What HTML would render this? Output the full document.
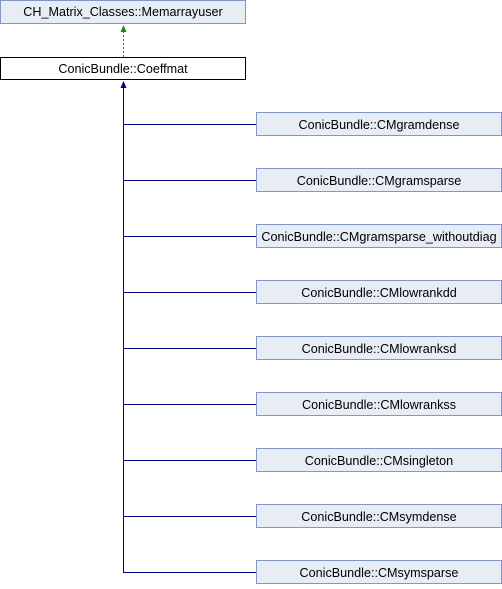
<!DOCTYPE html>
<html><head><style>
body{margin:0;width:502px;height:584px;background:#fff;overflow:hidden}
</style></head><body>
<svg width="502" height="584" xmlns="http://www.w3.org/2000/svg" font-family="Liberation Sans, sans-serif" font-size="12.6">
<rect x="0.5" y="0.5" width="245" height="23" fill="#e8ecf4" stroke="#8296c8"/>
<text x="123" y="16" text-anchor="middle">CH_Matrix_Classes::Memarrayuser</text>
<rect x="0.5" y="57.5" width="245" height="22" fill="#fff" stroke="#000"/>
<text x="123" y="73" text-anchor="middle">ConicBundle::Coeffmat</text>
<line x1="123.5" y1="57" x2="123.5" y2="31" stroke="#1a8a1a" stroke-dasharray="2,2"/>
<polygon points="123.5,25 120.5,32 126.5,32" fill="#1a8a1a"/>
<line x1="123.5" y1="87" x2="123.5" y2="572" stroke="#000080"/>
<polygon points="123.5,81 120.5,88 126.5,88" fill="#000080"/>
<g>
<line x1="123" y1="124.5" x2="257" y2="124.5" stroke="#000080"/>
<line x1="123" y1="180.5" x2="257" y2="180.5" stroke="#000080"/>
<line x1="123" y1="236.5" x2="257" y2="236.5" stroke="#000080"/>
<line x1="123" y1="292.5" x2="257" y2="292.5" stroke="#000080"/>
<line x1="123" y1="348.5" x2="257" y2="348.5" stroke="#000080"/>
<line x1="123" y1="404.5" x2="257" y2="404.5" stroke="#000080"/>
<line x1="123" y1="460.5" x2="257" y2="460.5" stroke="#000080"/>
<line x1="123" y1="516.5" x2="257" y2="516.5" stroke="#000080"/>
<line x1="123" y1="572.5" x2="257" y2="572.5" stroke="#000080"/>
</g>
<g fill="#e8ecf4" stroke="#8296c8">
<rect x="256.5" y="112.5" width="245" height="23"/>
<rect x="256.5" y="168.5" width="245" height="23"/>
<rect x="256.5" y="224.5" width="245" height="23"/>
<rect x="256.5" y="280.5" width="245" height="23"/>
<rect x="256.5" y="336.5" width="245" height="23"/>
<rect x="256.5" y="392.5" width="245" height="23"/>
<rect x="256.5" y="448.5" width="245" height="23"/>
<rect x="256.5" y="504.5" width="245" height="23"/>
<rect x="256.5" y="560.5" width="245" height="23"/>
</g>
<g text-anchor="middle">
<text x="379" y="129">ConicBundle::CMgramdense</text>
<text x="379" y="185">ConicBundle::CMgramsparse</text>
<text x="379" y="241">ConicBundle::CMgramsparse_withoutdiag</text>
<text x="379" y="297">ConicBundle::CMlowrankdd</text>
<text x="379" y="353">ConicBundle::CMlowranksd</text>
<text x="379" y="409">ConicBundle::CMlowrankss</text>
<text x="379" y="465">ConicBundle::CMsingleton</text>
<text x="379" y="521">ConicBundle::CMsymdense</text>
<text x="379" y="577">ConicBundle::CMsymsparse</text>
</g>
</svg>
</body></html>
